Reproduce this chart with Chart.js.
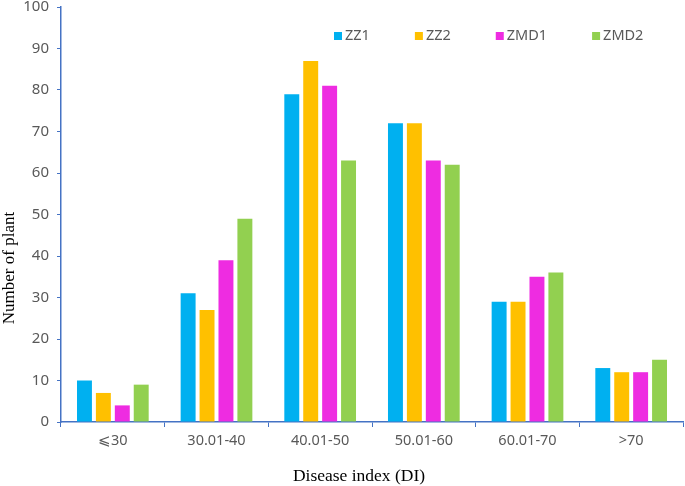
<!DOCTYPE html>
<html>
<head>
<meta charset="utf-8">
<script src="https://cdn.jsdelivr.net/npm/chart.js@4/dist/chart.umd.min.js"></script>
<style>
  html, body { margin: 0; padding: 0; background: #fff; }
  #wrap { width: 685px; height: 486px; position: relative; }
</style>
</head>
<body>
<div id="wrap"><canvas id="chart"></canvas></div>
<script>
// categories and series
const categories = ['⩽30', '30.01-40', '40.01-50', '50.01-60', '60.01-70', '>70'];
const zz1 = [10, 31, 79, 72, 29, 13];
const zz2 = [7, 27, 87, 72, 29, 12];
const zmd1 = [4, 39, 81, 63, 35, 12];
const zmd2 = [9, 49, 63, 62, 36, 15];
const seriesNames = ['ZZ1', 'ZZ2', 'ZMD1', 'ZMD2'];
const seriesColors = ['#00B0F0', '#FFC000', '#EE2CE1', '#92D050'];
const yTicks = [0, 10, 20, 30, 40, 50, 60, 70, 80, 90, 100];

const axisColor = '#4472C4';
const labelColor = '#595959';
const titleFont = '"Liberation Serif", "Times New Roman", serif';

// legend drawn inside the plot area, top right
const legendPlugin = {
    id: 'innerLegend',
    afterDraw(chart) {
        const ctx = chart.ctx;
        const area = chart.chartArea;
        ctx.save();
        ctx.font = '14.5px "Noto Sans", sans-serif';
        ctx.textBaseline = 'middle';
        let x = area.left + 273;
        const y = 36;
        chart.data.datasets.forEach(ds => {
            ctx.fillStyle = ds.backgroundColor;
            ctx.fillRect(x, y - 4, 8, 8);
            ctx.fillStyle = labelColor;
            ctx.textAlign = 'left';
            ctx.fillText(ds.label, x + 11, y);
            x += 11 + ctx.measureText(ds.label).width + 45;
        });
        ctx.restore();
    }
};

// axis titles are a bit off centre in the original, so draw them by hand
const axisTitlePlugin = {
    id: 'axisTitles',
    afterDraw(chart) {
        const ctx = chart.ctx;
        ctx.save();
        ctx.fillStyle = '#000';
        ctx.textAlign = 'center';
        ctx.textBaseline = 'middle';
        ctx.font = '17.5px ' + titleFont;
        ctx.fillText('Disease index (DI)', 359, 476);
        ctx.font = '17px ' + titleFont;
        ctx.translate(10, 268);
        ctx.rotate(-Math.PI / 2);
        ctx.fillText('Number of plant', 0, 0);
        ctx.restore();
    }
};

const datasets = [zz1, zz2, zmd1, zmd2].map((values, i) => ({
    label: seriesNames[i],
    data: values,
    backgroundColor: seriesColors[i],
    borderWidth: 0,
    barPercentage: 0.79,
    categoryPercentage: 0.73
}));

new Chart(document.getElementById('chart'), {
    type: 'bar',
    data: { labels: categories, datasets: datasets },
    options: {
        responsive: true,
        maintainAspectRatio: false,
        animation: false,
        layout: { padding: { top: 0, right: 2, left: 0, bottom: 0 } },
        plugins: {
            legend: { display: false },
            tooltip: { enabled: false }
        },
        scales: {
            x: {
                grid: {
                    display: true,
                    drawOnChartArea: false,
                    drawTicks: true,
                    tickLength: 5,
                    color: axisColor,
                    offset: true
                },
                border: { display: true, color: axisColor, width: 1.5 },
                ticks: {
                    color: labelColor,
                    font: { family: '"Noto Sans", sans-serif', size: 14.5 },
                    padding: 5,
                    maxRotation: 0
                },
                afterFit(scale) { scale.height = 64; }
            },
            y: {
                min: 0,
                max: 100,
                afterBuildTicks(scale) { scale.ticks = yTicks.map(v => ({ value: v })); },
                grid: {
                    display: true,
                    drawOnChartArea: false,
                    drawTicks: true,
                    tickLength: 4,
                    color: axisColor
                },
                border: { display: true, color: axisColor, width: 1.5 },
                ticks: {
                    color: labelColor,
                    font: { family: '"Noto Sans", sans-serif', size: 15 },
                    padding: 8
                },
                afterFit(scale) {
                    scale.width = 61;
                    scale.paddingTop = 7;
                    scale.paddingBottom = 0;
                }
            }
        }
    },
    plugins: [legendPlugin, axisTitlePlugin]
});
</script>
</body>
</html>
